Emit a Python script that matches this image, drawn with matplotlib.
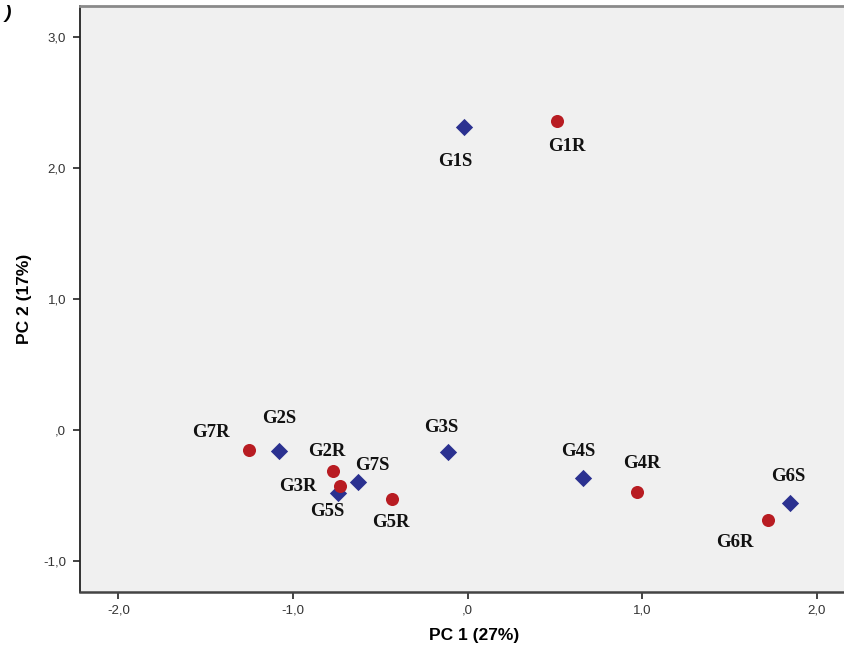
import matplotlib
matplotlib.use("Agg")
import matplotlib.pyplot as plt

# scores
s_names = ['G1S', 'G2S', 'G3S', 'G4S', 'G5S', 'G6S', 'G7S']
s_pc1 = [-0.02, -1.08, -0.11, 0.66, -0.74, 1.85, -0.63]
s_pc2 = [2.31, -0.16, -0.17, -0.37, -0.48, -0.56, -0.40]

r_names = ['G1R', 'G2R', 'G3R', 'G4R', 'G5R', 'G6R', 'G7R']
r_pc1 = [0.51, -0.77, -0.73, 0.97, -0.43, 1.72, -1.25]
r_pc2 = [2.36, -0.31, -0.43, -0.47, -0.53, -0.69, -0.15]

x_ticks = [-2, -1, 0, 1, 2]
x_ticklabels = ['-2,0', '-1,0', ',0', '1,0', '2,0']
y_ticks = [-1, 0, 1, 2, 3]
y_ticklabels = ['-1,0', ',0', '1,0', '2,0', '3,0']

# label offsets in pixels (dx right, dy down)
s_offsets = [(-9, 34), (0, -32), (-7, -25), (-4, -27), (-11, 19), (-2, -27), (15, -17)]
r_offsets = [(10, 26), (-6, -19), (-42, 0), (5, -28), (-2, 23), (-33, 22), (-38, -17)]

blue = '#2b3190'
red = '#b81c22'

fig = plt.figure(figsize=(8.44, 6.57), dpi=100)
ax = fig.add_axes([80 / 844, 65 / 657, 789 / 844, 586 / 657])
ax.set_facecolor('#f0f0f0')

ax.scatter(s_pc1, s_pc2, marker='D', s=8.8 ** 2, color=blue, zorder=3, linewidths=0)
ax.scatter(r_pc1, r_pc2, marker='o', s=9.4 ** 2, color=red, zorder=3, linewidths=0)

lab_font = dict(family='Liberation Serif', weight='bold', fontsize=13.5, color='#111111')
for names, xs, ys, offs in [(s_names, s_pc1, s_pc2, s_offsets), (r_names, r_pc1, r_pc2, r_offsets)]:
    for n, x, y, (dx, dy) in zip(names, xs, ys, offs):
        ax.annotate(n, (x, y), xytext=(dx * 0.72, -dy * 0.72), textcoords='offset points',
                    ha='center', va='center', **lab_font)

ax.set_xlim(-2.22, 2.30)
ax.set_ylim(-1.237, 3.237)

ax.set_xticks(x_ticks)
ax.set_xticklabels(x_ticklabels)
ax.set_yticks(y_ticks)
ax.set_yticklabels(y_ticklabels)
ax.tick_params(direction='out', length=5, width=1.2, color='#222222', labelsize=9.5,
               labelcolor='#333333')
ax.tick_params(axis='x', pad=4)
ax.tick_params(axis='y', pad=5)
for lbl in ax.get_xticklabels() + ax.get_yticklabels():
    lbl.set_family('Liberation Sans')

ax.spines['left'].set_color('#222222')
ax.spines['left'].set_linewidth(1.3)
ax.spines['bottom'].set_color('#444444')
ax.spines['bottom'].set_linewidth(1.8)
ax.spines['top'].set_color('#8a8a8a')
ax.spines['top'].set_linewidth(2.0)
ax.spines['right'].set_visible(False)

ax.set_xlabel('PC 1 (27%)', family='Liberation Sans', weight='bold', fontsize=12.5, labelpad=8)
ax.set_ylabel('PC 2 (17%)', family='Liberation Sans', weight='bold', fontsize=12.5, labelpad=8)

fig.text(0.006, 0.992, ')', family='Liberation Sans', weight='bold', style='italic',
         fontsize=14, ha='left', va='top')

fig.savefig('out.png', dpi=100, facecolor='white')
